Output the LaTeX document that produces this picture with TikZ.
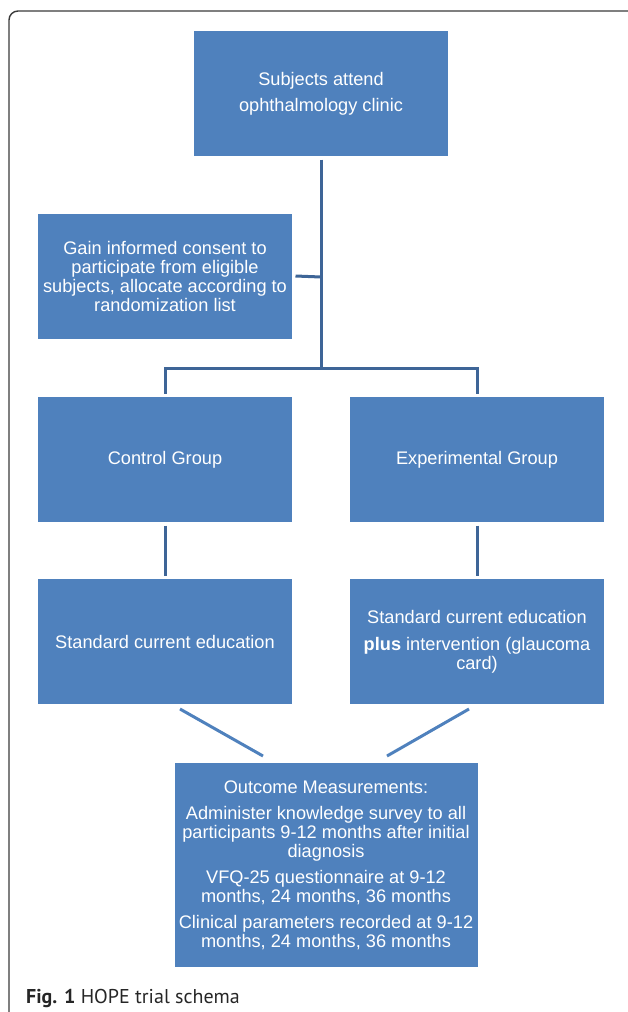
\documentclass[tikz,border=0pt]{standalone}
\usepackage{fontspec}
\setmainfont{Liberation Sans}
\newfontfamily\capfont{PT Sans}
\definecolor{boxblue}{HTML}{4F81BD}
\definecolor{treeblue}{HTML}{3E6597}
\definecolor{framegray}{HTML}{3A3A3A}

\begin{document}
\begin{tikzpicture}
[
  x=1pt,
  y=-1pt,
	box/.style={fill=boxblue,text=white,minimum width=254pt,minimum height=125pt,inner sep=0pt,outer sep=3.5pt,align=center,font=\fontsize{18.2}{19}\selectfont},
	tree/.style={draw=treeblue,line width=3pt},
	diag/.style={draw=boxblue,line width=3pt},
	frame/.style={draw=framegray,line width=1.4pt,rounded corners=9pt}
]

\useasboundingbox (0,0) rectangle (627,1012);
\draw[frame] (9,11) rectangle (645,1030);

\node[box](top) at (321,93.5) {Subjects attend\\[7pt]ophthalmology clinic};
\node[box](consent) at (165,276) {Gain informed consent to\\participate from eligible\\subjects, allocate according to\\randomization list};

\node[box](ctrl) at (165,459.5) {Control Group};
\node[box](exp) at (477,459.5) {Experimental Group};

\node[box](stdc) at (165,641.5) {Standard current education};
\node[box](stde) at (477,641.5) {Standard current education\\[8pt]\textbf{plus} intervention (glaucoma\\card)};

\node[box,minimum width=303pt,minimum height=204pt](outcome) at (326,865) {Outcome Measurements:\\[7pt]Administer knowledge survey to all\\participants 9-12 months after initial\\diagnosis\\[7pt]VFQ-25 questionnaire at 9-12\\months, 24 months, 36 months\\[7pt]Clinical parameters recorded at 9-12\\months, 24 months, 36 months};

\coordinate (j1) at (321,277);
\coordinate (j2) at (321,368);
\draw[tree] (top.south) -- (j2);
\draw[tree] (consent.east) -- (j1);
\draw[tree] (ctrl.north) |- (j2) -| (exp.north);
\draw[tree] (ctrl.south) -- (stdc.north);
\draw[tree] (exp.south) -- (stde.north);

\draw[diag] ([xshift=15pt,yshift=-1.5pt]stdc.south) -- ([xshift=-63pt,yshift=3.5pt]outcome.north);
\draw[diag] ([xshift=-8pt,yshift=-1.5pt]stde.south) -- ([xshift=61pt,yshift=3.5pt]outcome.north);

\node[anchor=base west,inner sep=0pt,text=black!85,font=\capfont\fontsize{20}{24}\selectfont](caption) at (26,1003) {\textbf{Fig. 1} HOPE trial schema};

\end{tikzpicture}
\end{document}
